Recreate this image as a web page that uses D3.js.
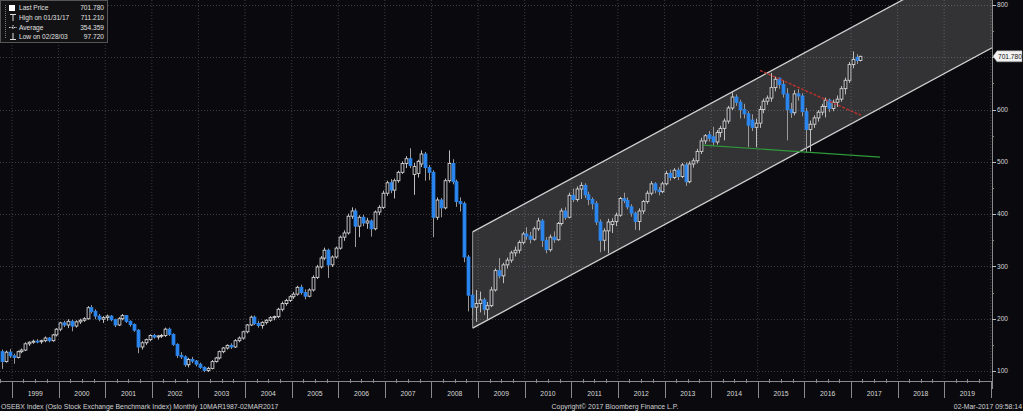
<!DOCTYPE html>
<html><head><meta charset="utf-8">
<script src="https://cdn.jsdelivr.net/npm/d3@7"></script>
<style>html,body{margin:0;padding:0;background:#0a0a0e;}svg{display:block;}</style>
</head><body>
<svg id="chart" width="1023" height="411"></svg>
<script>
// ---------------- DATA (monthly OHLC) ----------------
const dates = [
"1998-10","1998-11","1998-12",
"1999-01","1999-02","1999-03","1999-04","1999-05","1999-06","1999-07","1999-08","1999-09","1999-10","1999-11","1999-12",
"2000-01","2000-02","2000-03","2000-04","2000-05","2000-06","2000-07","2000-08","2000-09","2000-10","2000-11","2000-12",
"2001-01","2001-02","2001-03","2001-04","2001-05","2001-06","2001-07","2001-08","2001-09","2001-10","2001-11","2001-12",
"2002-01","2002-02","2002-03","2002-04","2002-05","2002-06","2002-07","2002-08","2002-09","2002-10","2002-11","2002-12",
"2003-01","2003-02","2003-03","2003-04","2003-05","2003-06","2003-07","2003-08","2003-09","2003-10","2003-11","2003-12",
"2004-01","2004-02","2004-03","2004-04","2004-05","2004-06","2004-07","2004-08","2004-09","2004-10","2004-11","2004-12",
"2005-01","2005-02","2005-03","2005-04","2005-05","2005-06","2005-07","2005-08","2005-09","2005-10","2005-11","2005-12",
"2006-01","2006-02","2006-03","2006-04","2006-05","2006-06","2006-07","2006-08","2006-09","2006-10","2006-11","2006-12",
"2007-01","2007-02","2007-03","2007-04","2007-05","2007-06","2007-07","2007-08","2007-09","2007-10","2007-11","2007-12",
"2008-01","2008-02","2008-03","2008-04","2008-05","2008-06","2008-07","2008-08","2008-09","2008-10","2008-11","2008-12",
"2009-01","2009-02","2009-03","2009-04","2009-05","2009-06","2009-07","2009-08","2009-09","2009-10","2009-11","2009-12",
"2010-01","2010-02","2010-03","2010-04","2010-05","2010-06","2010-07","2010-08","2010-09","2010-10","2010-11","2010-12",
"2011-01","2011-02","2011-03","2011-04","2011-05","2011-06","2011-07","2011-08","2011-09","2011-10","2011-11","2011-12",
"2012-01","2012-02","2012-03","2012-04","2012-05","2012-06","2012-07","2012-08","2012-09","2012-10","2012-11","2012-12",
"2013-01","2013-02","2013-03","2013-04","2013-05","2013-06","2013-07","2013-08","2013-09","2013-10","2013-11","2013-12",
"2014-01","2014-02","2014-03","2014-04","2014-05","2014-06","2014-07","2014-08","2014-09","2014-10","2014-11","2014-12",
"2015-01","2015-02","2015-03","2015-04","2015-05","2015-06","2015-07","2015-08","2015-09","2015-10","2015-11","2015-12",
"2016-01","2016-02","2016-03","2016-04","2016-05","2016-06","2016-07","2016-08","2016-09","2016-10","2016-11","2016-12",
"2017-01","2017-02","2017-03"];

const opens = [
137,118,136,
129,126,137,140,152,155,157,156,158,163,158,169,
180,192,188,195,186,194,197,200,221,214,205,199,
202,205,198,188,200,206,195,189,178,146,154,160,
168,165,167,168,180,170,151,130,127,112,122,119,
113,107,101,105,118,125,137,144,149,146,158,163,
175,188,203,191,187,193,197,202,204,218,229,235,
242,247,260,250,243,255,279,299,316,331,303,318,
335,356,364,396,406,377,394,383,387,372,404,413,
440,460,446,464,480,497,506,476,478,496,515,489,
480,394,427,412,464,497,462,424,420,318,245,222,
229,236,218,225,255,292,282,303,312,326,331,346,
362,358,352,372,387,350,332,356,351,382,406,394,
436,428,448,455,437,428,420,385,350,368,380,386,
398,430,426,414,402,386,406,424,440,458,446,443,
458,478,470,484,472,494,462,496,502,520,540,552,
548,538,556,564,578,603,624,614,600,592,580,566,
574,600,616,622,642,660,648,630,600,594,630,626,
596,562,572,584,595,606,618,602,614,620,640,656,
686,700,694];

const highs = [
141,139,142,
133,139,143,155,157,160,161,160,166,165,171,182,
194,196,199,198,197,200,203,224,226,218,209,205,
208,207,200,203,209,207,197,191,180,157,162,170,
171,169,171,183,183,172,153,136,130,125,127,121,
116,109,108,121,127,139,146,151,153,161,166,177,
190,206,206,196,195,199,205,206,221,233,238,245,
251,263,265,256,258,283,303,320,336,334,321,338,
359,369,401,413,411,398,399,393,390,407,417,445,
464,467,468,483,501,511,526,498,504,522,519,494,
484,432,431,468,522,505,466,432,424,322,256,255,
252,240,232,261,296,316,307,317,330,338,350,366,
375,366,376,393,391,356,361,367,385,411,413,441,
449,453,461,459,443,432,425,390,373,391,392,403,
433,441,432,419,405,411,427,445,463,461,452,462,
483,485,488,489,498,499,501,507,525,546,553,559,
567,561,569,583,607,633,629,619,611,597,591,583,
607,621,627,670,663,661,656,641,613,637,639,631,
603,579,589,599,611,623,621,619,627,645,661,691,
711.21,706,703];

const lows = [
104,116,125,
114,124,134,138,148,152,153,152,155,155,156,166,
176,184,182,176,183,190,194,198,210,199,195,192,
196,195,184,186,197,192,185,175,134,141,150,157,
162,160,163,165,167,148,125,123,108,107,115,109,
104,97.72,98,103,116,122,134,141,142,144,155,160,
172,186,188,183,181,189,194,197,201,214,225,232,
238,244,246,237,241,252,276,296,312,278,299,315,
332,349,361,391,337,356,377,372,357,369,398,410,
435,440,430,460,477,488,488,437,470,490,464,465,
356,389,394,409,460,457,414,405,308,214,206,194,
212,207,199,222,252,277,268,296,307,319,325,342,
351,344,349,368,337,325,328,345,349,378,389,392,
423,424,429,431,417,409,379,327,330,325,364,377,
395,421,409,395,370,369,400,420,436,440,436,440,
455,464,467,465,469,454,459,489,497,515,534,539,
531,533,547,541,573,599,607,583,583,528,559,528,
565,593,609,615,635,640,623,541,584,589,617,587,
517,520,565,577,589,585,595,597,605,615,629,651,
679,687,692];

const closes = [
118,136,129,
126,137,140,152,155,157,156,158,163,158,169,180,
192,188,195,186,194,197,200,221,214,205,199,202,
205,198,188,200,206,195,189,178,146,154,160,168,
165,167,168,180,170,151,130,127,112,122,119,113,
107,101,105,118,125,137,144,149,146,158,163,175,
188,203,191,187,193,197,202,204,218,229,235,242,
247,260,250,243,255,279,299,316,331,303,318,335,
356,364,396,406,377,394,383,387,372,404,413,440,
460,446,464,480,497,506,493,491,501,515,489,480,
394,427,412,464,497,462,424,420,318,245,222,229,
236,218,225,255,292,282,303,312,326,331,346,362,
358,352,372,387,350,332,356,351,382,406,394,436,
428,448,455,437,428,420,385,350,368,385,386,398,
430,426,414,402,386,406,424,440,458,446,443,458,
478,470,484,472,494,462,496,502,520,540,550,545,
538,556,564,578,603,624,614,600,592,570,566,574,
600,616,622,642,658,648,630,600,594,630,626,596,
562,572,584,595,606,618,602,614,620,640,656,686,
696,694,701.78];

// y axis tick values / labels shown, x axis year labels
const yTicks = [100,200,300,400,500,600,700,800];
const yTickLabels = [100,200,300,400,500,600,800];
const yMinorTicks = [150,250,350,450,550,650,750];
const yearLabels = ["1999","2000","2001","2002","2003","2004","2005","2006","2007","2008","2009","2010","2011","2012","2013","2014","2015","2016","2017","2018","2019"];

// drawn trend objects (date, value)
const channelDates = ["2008-11-19","2020-01-11"];
const channelLower = [182, 718];
const channelUpper = [366, 902];
const resistDates = ["2015-01-19","2017-03-20"];
const resistValues = [675, 589];
const supportDates = ["2013-10-29","2017-08-17"];
const supportValues = [532, 509];

// legend
const legendLabels = ["Last Price","High on 01/31/17","Average","Low on 02/28/03"];
const legendValues = ["701.780","711.210","354.359","97.720"];
const lastPrice = 701.78;

const footerLeft = "OSEBX Index (Oslo Stock Exchange Benchmark Index)  Monthly 10MAR1987-02MAR2017";
const footerMid = "Copyright\u00A9 2017 Bloomberg Finance L.P.";
const footerRight = "02-Mar-2017 09:58:14";

// ---------------- DRAW ----------------
const FONT = "'Liberation Sans', Arial, sans-serif";
const plotR = 992, plotB = 381;
const svg = d3.select("#chart");
svg.append("rect").attr("width",1023).attr("height",411).attr("fill","#0a0a0e");

const parse = d3.timeParse("%Y-%m-%d");
const x = d3.scaleTime().domain([new Date(1998,8,29), new Date(2020,0,11)]).range([0, plotR]);
const y = d3.scaleLinear().domain([100,800]).range([371,5]);

svg.append("defs").append("clipPath").attr("id","plotclip")
  .append("rect").attr("x",0).attr("y",0).attr("width",plotR).attr("height",plotB);

const plot = svg.append("g").attr("clip-path","url(#plotclip)");

// grid
const yearStarts = d3.timeYear.range(new Date(1999,0,1), new Date(2020,0,2));
plot.append("g").selectAll("line").data(yearStarts).join("line")
  .attr("x1",d=>x(d)).attr("x2",d=>x(d)).attr("y1",0).attr("y2",plotB)
  .attr("stroke","#3c3c42").attr("stroke-dasharray","1,2").attr("stroke-width",1);
plot.append("g").selectAll("line").data(yTicks).join("line")
  .attr("x1",0).attr("x2",plotR).attr("y1",d=>Math.round(y(d))+0.5).attr("y2",d=>Math.round(y(d))+0.5)
  .attr("stroke","#3c3c42").attr("stroke-dasharray","1,2").attr("stroke-width",1);

// channel
const cd = channelDates.map(parse);
const chPts = [[x(cd[0]),y(channelLower[0])],[x(cd[1]),y(channelLower[1])],[x(cd[1]),y(channelUpper[1])],[x(cd[0]),y(channelUpper[0])]];
plot.append("polygon").attr("points",chPts.map(p=>p.join(",")).join(" "))
  .attr("fill","rgba(255,255,255,0.17)").attr("stroke","none");
plot.append("line").attr("x1",chPts[0][0]).attr("y1",chPts[0][1]).attr("x2",chPts[1][0]).attr("y2",chPts[1][1])
  .attr("stroke","#d0d0d0").attr("stroke-width",1.3);
plot.append("line").attr("x1",chPts[3][0]).attr("y1",chPts[3][1]).attr("x2",chPts[2][0]).attr("y2",chPts[2][1])
  .attr("stroke","#d0d0d0").attr("stroke-width",1.3);
plot.append("line").attr("x1",chPts[0][0]).attr("y1",chPts[0][1]).attr("x2",chPts[3][0]).attr("y2",chPts[3][1])
  .attr("stroke","#9a9a9a").attr("stroke-width",1);

// candles
const data = dates.map((d,i)=>({date:new Date(+d.slice(0,4), +d.slice(5,7)-1, 15), o:opens[i], h:highs[i], l:lows[i], c:closes[i]}));
const cw = 2.8;
const cg = plot.append("g");
data.forEach(d=>{
  const cx = Math.round(x(d.date)) + 0.5;
  const up = d.c >= d.o;
  const top = y(Math.max(d.o,d.c)), bot = y(Math.min(d.o,d.c));
  const wickCol = up ? "#bdbdbd" : "#9a9a9a";
  cg.append("line").attr("x1",cx).attr("x2",cx).attr("y1",y(d.h)).attr("y2",top).attr("stroke",wickCol).attr("stroke-width",1);
  cg.append("line").attr("x1",cx).attr("x2",cx).attr("y1",bot).attr("y2",y(d.l)).attr("stroke",wickCol).attr("stroke-width",1);
  cg.append("rect").attr("x",cx-cw/2).attr("y",top).attr("width",cw).attr("height",Math.max(0.8,bot-top))
    .attr("fill", up ? "#0a0a0e" : "#2a88f2")
    .attr("fill-opacity", up ? 0.35 : 1)
    .attr("stroke", up ? "#d4d4d4" : "#2a88f2").attr("stroke-width",0.9);
});

// resistance (red dashed) and support (green)
const rd = resistDates.map(parse), sd = supportDates.map(parse);
plot.append("line").attr("x1",x(rd[0])).attr("y1",y(resistValues[0])).attr("x2",x(rd[1])).attr("y2",y(resistValues[1]))
  .attr("stroke","#b3302c").attr("stroke-width",1.5).attr("stroke-dasharray","3,1.5");
plot.append("line").attr("x1",x(sd[0])).attr("y1",y(supportValues[0])).attr("x2",x(sd[1])).attr("y2",y(supportValues[1]))
  .attr("stroke","#2e9a3a").attr("stroke-width",1.2);

// right axis
const axR = svg.append("g");
axR.append("line").attr("x1",plotR+0.5).attr("x2",plotR+0.5).attr("y1",0).attr("y2",plotB+8).attr("stroke","#8a8a8a");
axR.selectAll(".mj").data(yTicks).join("line").attr("class","mj")
  .attr("x1",plotR).attr("x2",plotR+4).attr("y1",d=>Math.round(y(d))+0.5).attr("y2",d=>Math.round(y(d))+0.5).attr("stroke","#bbb");
axR.selectAll(".mn").data(yMinorTicks).join("line").attr("class","mn")
  .attr("x1",plotR).attr("x2",plotR+2).attr("y1",d=>Math.round(y(d))+0.5).attr("y2",d=>Math.round(y(d))+0.5).attr("stroke","#888");
axR.selectAll("text").data(yTickLabels).join("text")
  .attr("x",plotR+5).attr("y",d=>y(d)).attr("dy","0.35em")
  .attr("fill","#d8d8d8").attr("font-family",FONT).attr("font-size",6.6).text(d=>d);

// last price tag
const ly = y(lastPrice);
svg.append("polygon").attr("points",[[plotR+1,ly],[plotR+5,ly-5.5],[1022,ly-5.5],[1022,ly+5.5],[plotR+5,ly+5.5]].map(p=>p.join(",")).join(" "))
  .attr("fill","#f2f2f2").attr("stroke","#999").attr("stroke-width",0.5);
svg.append("text").attr("x",plotR+6).attr("y",ly).attr("dy","0.35em").attr("fill","#111")
  .attr("font-family",FONT).attr("font-size",6.6).text(lastPrice.toFixed(3));

// bottom axis
const axB = svg.append("g");
axB.append("line").attr("x1",0).attr("x2",plotR).attr("y1",plotB+0.5).attr("y2",plotB+0.5).attr("stroke","#8a8a8a");
axB.selectAll(".ys").data(yearStarts).join("line").attr("class","ys")
  .attr("x1",d=>Math.round(x(d))+0.5).attr("x2",d=>Math.round(x(d))+0.5).attr("y1",plotB).attr("y2",plotB+17).attr("stroke","#8a8a8a");
const quarters = d3.timeMonth.every(3).range(new Date(1998,9,1), new Date(2020,0,1)).filter(d=>d.getMonth()!==0);
axB.selectAll(".q").data(quarters).join("line").attr("class","q")
  .attr("x1",d=>Math.round(x(d))+0.5).attr("x2",d=>Math.round(x(d))+0.5).attr("y1",plotB-2).attr("y2",plotB+2).attr("stroke","#8a8a8a");
axB.selectAll("text").data(yearLabels).join("text")
  .attr("x",d=>x(new Date(+d,6,2))).attr("y",396).attr("text-anchor","middle")
  .attr("fill","#d8d8d8").attr("font-family",FONT).attr("font-size",6.8).text(d=>d);

// footer
svg.append("text").attr("x",1).attr("y",408.5).attr("fill","#d0d0d0").attr("font-family",FONT).attr("font-size",6.9).text(footerLeft);
svg.append("text").attr("x",615).attr("y",408.5).attr("text-anchor","middle").attr("fill","#d0d0d0").attr("font-family",FONT).attr("font-size",6.9).text(footerMid);
svg.append("text").attr("x",1022).attr("y",408.5).attr("text-anchor","end").attr("fill","#d0d0d0").attr("font-family",FONT).attr("font-size",6.9).text(footerRight);

// legend
const lg = svg.append("g");
lg.append("rect").attr("x",0.5).attr("y",0.5).attr("width",107).attr("height",42).attr("fill","#121214").attr("stroke","#555");
lg.append("line").attr("x1",5.5).attr("x2",5.5).attr("y1",5).attr("y2",38).attr("stroke","#777").attr("stroke-dasharray","1,1");
legendLabels.forEach((t,i)=>{
  const ry = 8 + i*9.6;
  lg.append("text").attr("x",19).attr("y",ry).attr("dy","0.35em").attr("fill","#e0e0e0").attr("font-family",FONT).attr("font-size",6.6).text(t);
  lg.append("text").attr("x",104).attr("y",ry).attr("dy","0.35em").attr("text-anchor","end").attr("fill","#e0e0e0").attr("font-family",FONT).attr("font-size",6.6).text(legendValues[i]);
});
lg.append("rect").attr("x",9).attr("y",5).attr("width",6).attr("height",6).attr("fill","#fff");
lg.append("path").attr("d","M10,14.5 H16 M13,14.5 V21").attr("stroke","#ddd").attr("fill","none");
lg.append("path").attr("d","M9,27.5 H17 M13,25 V30").attr("stroke","#ddd").attr("fill","none").attr("stroke-dasharray","1.5,1");
lg.append("path").attr("d","M13,33 V39.5 M10,39.5 H16").attr("stroke","#ddd").attr("fill","none");
</script>
</body></html>
